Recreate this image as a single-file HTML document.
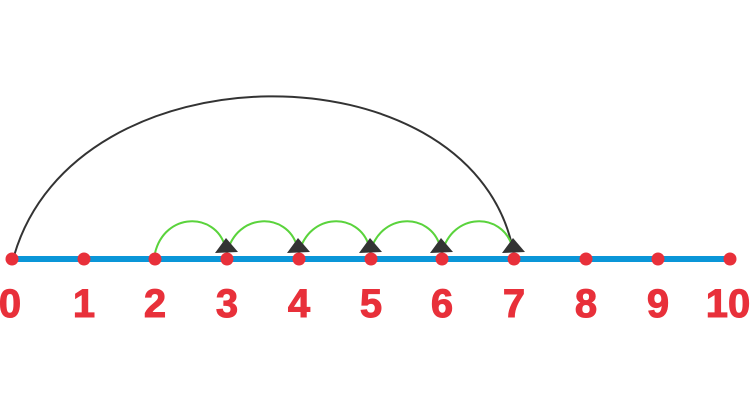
<!DOCTYPE html>
<html><head><style>body{margin:0;background:#fff}</style></head><body>
<svg width="752" height="414" xmlns="http://www.w3.org/2000/svg">
<path d="M14 256 C 75 45, 465 45, 512 245" fill="none" stroke="#333" stroke-width="2"/>
<line x1="12" y1="259" x2="730" y2="259" stroke="#0a96d8" stroke-width="6"/>
<g fill="none" stroke="#5ad33c" stroke-width="2">
<path d="M155 253 C 165 212, 215 212, 225 246"/>
<path d="M227 253 C 237 212, 287 212, 297 246"/>
<path d="M299 253 C 309 212, 359 212, 369 246"/>
<path d="M370 253 C 380 212, 430 212, 440 246"/>
<path d="M442 253 C 452 212, 502 212, 512 246"/>
</g>
<g fill="#e8303a">
<circle cx="12" cy="259" r="6.5"/><circle cx="84" cy="259" r="6.5"/><circle cx="155" cy="259" r="6.5"/><circle cx="227" cy="259" r="6.5"/><circle cx="299" cy="259" r="6.5"/><circle cx="371" cy="259" r="6.5"/><circle cx="442" cy="259" r="6.5"/><circle cx="514" cy="259" r="6.5"/><circle cx="586" cy="259" r="6.5"/><circle cx="658" cy="259" r="6.5"/><circle cx="730" cy="259" r="6.5"/>
</g>
<g fill="#333">
<polygon points="226,238 215,253 238,252"/>
<polygon points="298,238 287,253 310,252"/>
<polygon points="370,238 359,253 382,252"/>
<polygon points="441,238 430,253 453,252"/>
<polygon points="513,238 502,253 525,252"/>
</g>
<g fill="#e8303a" font-family="Liberation Sans, sans-serif" font-weight="bold" font-size="40" text-anchor="middle" stroke="#e8303a" stroke-width="1">
<text x="10" y="317">0</text><text x="84" y="317">1</text><text x="155" y="317">2</text><text x="227" y="317">3</text><text x="299" y="317">4</text><text x="371" y="317">5</text><text x="442" y="317">6</text><text x="514" y="317">7</text><text x="586" y="317">8</text><text x="658" y="317">9</text><text x="728" y="317">10</text>
</g>
</svg>
</body></html>
